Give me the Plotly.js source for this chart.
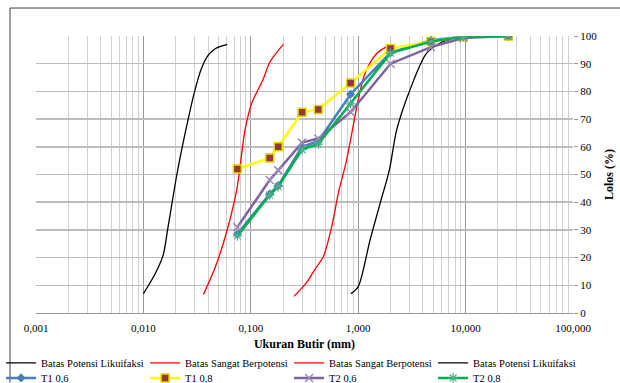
<!DOCTYPE html>
<html><head><meta charset="utf-8">
<script src="https://cdn.plot.ly/plotly-3.0.1.min.js"></script>
<style>body{margin:0;background:#fff}#chart{width:620px;height:383px}</style>
</head><body><div id="chart"></div>
<script>
// Boundary curves
const bpl1X = [0.0100, 0.0128, 0.0153, 0.0168, 0.0205, 0.0245, 0.0300, 0.0345, 0.0400, 0.0470, 0.0604];
const bpl1Y = [7, 14, 21, 30, 50, 65, 80, 88, 93, 95.5, 97];
const bsb1X = [0.0361, 0.0450, 0.0555, 0.0739, 0.0883, 0.102, 0.130, 0.151, 0.201];
const bsb1Y = [6.7, 15, 25.2, 44.4, 66, 75.7, 84.3, 90.7, 97];
const bsb2X = [0.252, 0.330, 0.410, 0.473, 0.567, 0.653, 0.780, 1.00, 1.156, 1.486, 1.98];
const bsb2Y = [6, 11, 16.7, 20.3, 31.2, 43.2, 55.2, 76.9, 86.5, 93.7, 96.8];
const bpl2X = [0.857, 1.00, 1.29, 1.60, 1.95, 2.28, 3.03, 4.34, 6.2, 7.5];
const bpl2Y = [7, 9.5, 26.4, 39.6, 51.6, 66, 80.5, 93.8, 98, 99];
// Sieve sizes (mm) and passing (%)
const sieve = [0.075, 0.15, 0.18, 0.30, 0.425, 0.85, 2.0, 4.75, 9.5, 25.0];
const t1_06 = [28.5, 43, 46, 60, 62, 79, 94, 98.5, 99.7, 100];
const t1_08 = [52, 56, 60, 72.5, 73.5, 83, 95.5, 98, 99.7, 100];
const t2_06 = [31, 48, 51.5, 61.5, 63, 72.5, 90, 96, 99.3, 100];
const t2_08 = [27.8, 42.6, 45.6, 59, 61, 75.5, 93.8, 98, 99.7, 100];
// Axis labels
const xTickVals = [0.001, 0.01, 0.1, 1, 10, 100];
const xTickText = ["0,001", "0,010", "0,100", "1,000", "10,000", "100,000"];
const yTickVals = [0, 10, 20, 30, 40, 50, 60, 70, 80, 90, 100];

const minorVals = [];
for (let e = -3; e < 2; e++) for (let m = 2; m <= 9; m++) minorVals.push(m * Math.pow(10, e));

const serif = "Liberation Serif";
const bnd = (x, y, name, color) => ({x, y, name, type: 'scatter', mode: 'lines', legend: 'legend',
  line: {color, width: 1.3, shape: 'spline', smoothing: 0.8}});
const traces = [
  bnd(bpl1X, bpl1Y, 'Batas Potensi Likuifaksi', '#000000'),
  bnd(bsb1X, bsb1Y, 'Batas Sangat Berpotensi', '#ff0000'),
  bnd(bsb2X, bsb2Y, 'Batas Sangat Berpotensi', '#ff0000'),
  bnd(bpl2X, bpl2Y, 'Batas Potensi Likuifaksi', '#000000'),
  {x: sieve, y: t1_06, name: 'T1 0,6', type: 'scatter', mode: 'lines+markers', legend: 'legend2',
   line: {color: '#4a7ebb', width: 2.5}, marker: {symbol: 'diamond', size: 7, color: '#4a7ebb'}},
  {x: sieve, y: t1_08, name: 'T1 0,8', type: 'scatter', mode: 'lines+markers', legend: 'legend2',
   line: {color: '#ffff00', width: 2.5}, marker: {symbol: 'square', size: 8, color: '#953735', line: {color: '#e6d800', width: 1.5}}},
  {x: sieve, y: t2_06, name: 'T2 0,6', type: 'scatter', mode: 'lines+markers', legend: 'legend2',
   line: {color: '#7f63a1', width: 2.5}, marker: {symbol: 'x-thin-open', size: 8, color: '#9b8bb8', line: {width: 1.5, color: '#9b8bb8'}}},
  {x: sieve, y: t2_08, name: 'T2 0,8', type: 'scatter', mode: 'lines+markers', legend: 'legend2',
   line: {color: '#00b050', width: 2.5}, marker: {symbol: 'asterisk-open', size: 8, color: '#4bac8c', line: {width: 1.2, color: '#4bac8c'}}}
];

const legBase = {orientation: 'h', x: -0.065, xanchor: 'left', yanchor: 'top',
  entrywidth: 99, entrywidthmode: 'pixels', traceorder: 'normal',
  font: {family: serif, size: 10.5}, itemwidth: 30, tracegroupgap: 0, bgcolor: 'rgba(0,0,0,0)'};

const layout = {
  width: 620, height: 383,
  margin: {l: 36, r: 47, t: 36, b: 70, autoexpand: false},
  paper_bgcolor: '#ffffff', plot_bgcolor: '#ffffff',
  font: {family: serif, size: 11, color: '#000'},
  showlegend: true,
  xaxis: {
    type: 'log', range: [-3, 2], tickmode: 'array', tickvals: xTickVals, ticktext: xTickText,
    showgrid: true, gridcolor: '#999999', gridwidth: 1,
    minor: {tickmode: 'array', tickvals: minorVals, showgrid: true, gridcolor: '#d0d0d0', gridwidth: 1, ticks: ''},
    showline: true, linecolor: '#999999', linewidth: 1, ticks: '', zeroline: false,
    ticklabelstandoff: 5,
    tickfont: {family: serif, size: 11},
    title: {text: '<b>Ukuran Butir (mm)</b>', font: {family: serif, size: 12}, standoff: 6}
  },
  yaxis: {
    side: 'right', range: [0, 100], tickmode: 'array', tickvals: yTickVals,
    showgrid: true, gridcolor: '#bdbdbd', gridwidth: 1.5, zeroline: false,
    showline: false, ticks: 'outside', ticklen: 4, tickcolor: '#999999',
    tickfont: {family: serif, size: 11},
    title: {text: '<b>Lolos (%)</b>', font: {family: serif, size: 12}, standoff: 8}
  },
  legend: Object.assign({}, legBase, {y: -0.128}),
  legend2: Object.assign({}, legBase, {y: -0.182}),
  shapes: [
    {type: 'line', xref: 'paper', yref: 'paper', x0: -0.0484, x1: -0.0484, y0: -0.26, y1: 1.101, line: {color: '#404040', width: 1}},
    {type: 'line', xref: 'paper', yref: 'paper', x0: -0.0484, x1: 1.1, y0: 1.101, y1: 1.101, line: {color: '#404040', width: 1}}
  ]
};
Plotly.newPlot('chart', traces, layout, {displayModeBar: false, staticPlot: true});
</script></body></html>
